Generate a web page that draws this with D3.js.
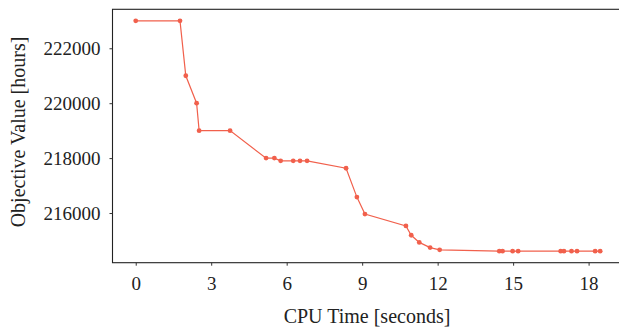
<!DOCTYPE html>
<html>
<head>
<meta charset="utf-8">
<script src="https://cdn.jsdelivr.net/npm/d3@7"></script>
<style>
body { margin: 0; background: #fff; }
svg { display: block; }
.axis text { font-family: "Liberation Serif", "DejaVu Serif", serif; font-size: 19px; fill: #222; }
.axis path { display: none; }
.axis line { stroke: #333; }
.title { font-family: "Liberation Serif", "DejaVu Serif", serif; font-size: 20px; fill: #222; }
</style>
</head>
<body>
<script>
// CPU time (s) and objective value (hours)
var cpuTime = [0, 1.76, 1.99, 2.42, 2.52, 3.75, 5.18, 5.51, 5.76, 6.26, 6.53, 6.81,
	8.36, 8.79, 9.11, 10.74, 10.95, 11.27, 11.70, 12.08,
	14.45, 14.58, 14.98, 15.20, 16.89, 17.02, 17.32, 17.54, 18.26, 18.46];
var objValue = [223000, 223000, 221000, 220000, 219000, 219000, 218000, 218000, 217900, 217900, 217900, 217900,
	217630, 216580, 215960, 215530, 215190, 214930, 214740, 214660,
	214610, 214610, 214610, 214610, 214610, 214610, 214610, 214610, 214610, 214610];
var xTicks = [0, 3, 6, 9, 12, 15, 18],
	yTicks = [216000, 218000, 220000, 222000];

var W = 619, H = 330;
var margin = {top: 9.3, right: -4.4, bottom: 67.3, left: 112.5},
	width = W - margin.left - margin.right,
	height = H - margin.top - margin.bottom;

// ggplot style 5% expansion
function expand(ext) {
	var pad = (ext[1] - ext[0]) * 0.05;
	return [ext[0] - pad, ext[1] + pad];
}

var x = d3.scaleLinear()
	.domain(expand(d3.extent(cpuTime)))
	.range([0, width]);

var y = d3.scaleLinear()
	.domain(expand(d3.extent(objValue)))
	.range([height, 0]);

var svg = d3.select('body')
	.append('svg')
	.attr('width', W)
	.attr('height', H);

var main = svg.append('g')
	.attr('transform', 'translate(' + margin.left + ',' + margin.top + ')');

// panel border (right side falls outside the picture)
main.append('rect')
	.attr('x', 0)
	.attr('y', 0)
	.attr('width', width)
	.attr('height', height)
	.attr('fill', 'none')
	.attr('stroke', '#222')
	.attr('stroke-width', 1.1);

main.append('g')
	.attr('class', 'axis')
	.attr('transform', 'translate(0,' + height + ')')
	.call(d3.axisBottom(x).tickValues(xTicks).tickSize(3).tickPadding(11).tickFormat(d3.format('d')));

main.append('g')
	.attr('class', 'axis')
	.call(d3.axisLeft(y).tickValues(yTicks).tickSize(3).tickPadding(9).tickFormat(d3.format('d')));

var pts = cpuTime.map(function(t, i) { return [t, objValue[i]]; });

var line = d3.line()
	.x(function(d) { return x(d[0]); })
	.y(function(d) { return y(d[1]); });

main.append('path')
	.datum(pts)
	.attr('fill', 'none')
	.attr('stroke', '#f1604c')
	.attr('stroke-width', 1.2)
	.attr('d', line);

main.selectAll('circle.dot')
	.data(pts)
	.enter().append('circle')
		.attr('class', 'dot')
		.attr('cx', function(d) { return x(d[0]); })
		.attr('cy', function(d) { return y(d[1]); })
		.attr('r', 2.4)
		.attr('fill', '#f1604c');

// axis titles
svg.append('text')
	.attr('class', 'title')
	.attr('x', 367)
	.attr('y', 323)
	.attr('text-anchor', 'middle')
	.text('CPU Time [seconds]');

svg.append('text')
	.attr('class', 'title')
	.attr('transform', 'translate(25,132) rotate(-90)')
	.attr('text-anchor', 'middle')
	.text('Objective Value [hours]');
</script>
</body>
</html>
